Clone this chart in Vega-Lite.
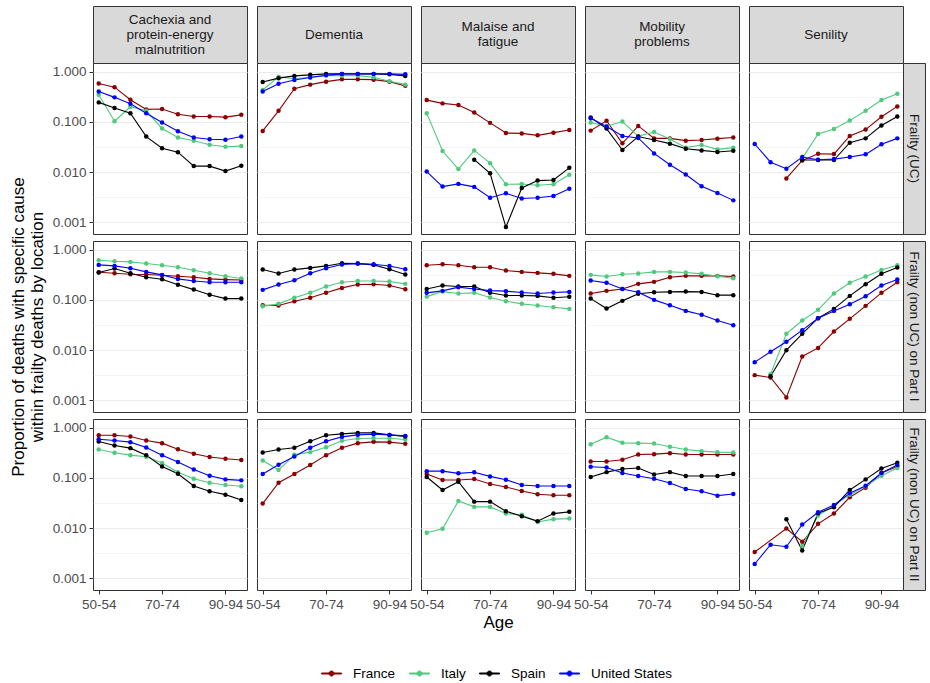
{
"$schema": "https://vega.github.io/schema/vega-lite/v6.json",
"background": "white",
"padding": {"left": 8, "top": 5, "right": 1, "bottom": 5},
"datasets": {
"pts": [
{"cause":"Cachexia","frailty":"UC","loc":"France","age":"50-54","p":0.58},
{"cause":"Cachexia","frailty":"UC","loc":"France","age":"55-59","p":0.49},
{"cause":"Cachexia","frailty":"UC","loc":"France","age":"60-64","p":0.275},
{"cause":"Cachexia","frailty":"UC","loc":"France","age":"65-69","p":0.177},
{"cause":"Cachexia","frailty":"UC","loc":"France","age":"70-74","p":0.18},
{"cause":"Cachexia","frailty":"UC","loc":"France","age":"75-79","p":0.142},
{"cause":"Cachexia","frailty":"UC","loc":"France","age":"80-84","p":0.128},
{"cause":"Cachexia","frailty":"UC","loc":"France","age":"85-89","p":0.128},
{"cause":"Cachexia","frailty":"UC","loc":"France","age":"90-94","p":0.124},
{"cause":"Cachexia","frailty":"UC","loc":"France","age":"95-99","p":0.138},
{"cause":"Cachexia","frailty":"UC","loc":"Italy","age":"50-54","p":0.347},
{"cause":"Cachexia","frailty":"UC","loc":"Italy","age":"55-59","p":0.103},
{"cause":"Cachexia","frailty":"UC","loc":"Italy","age":"60-64","p":0.2},
{"cause":"Cachexia","frailty":"UC","loc":"Italy","age":"65-69","p":0.166},
{"cause":"Cachexia","frailty":"UC","loc":"Italy","age":"70-74","p":0.074},
{"cause":"Cachexia","frailty":"UC","loc":"Italy","age":"75-79","p":0.049},
{"cause":"Cachexia","frailty":"UC","loc":"Italy","age":"80-84","p":0.042},
{"cause":"Cachexia","frailty":"UC","loc":"Italy","age":"85-89","p":0.035},
{"cause":"Cachexia","frailty":"UC","loc":"Italy","age":"90-94","p":0.032},
{"cause":"Cachexia","frailty":"UC","loc":"Italy","age":"95-99","p":0.033},
{"cause":"Cachexia","frailty":"UC","loc":"Spain","age":"50-54","p":0.244},
{"cause":"Cachexia","frailty":"UC","loc":"Spain","age":"55-59","p":0.188},
{"cause":"Cachexia","frailty":"UC","loc":"Spain","age":"60-64","p":0.149},
{"cause":"Cachexia","frailty":"UC","loc":"Spain","age":"65-69","p":0.051},
{"cause":"Cachexia","frailty":"UC","loc":"Spain","age":"70-74","p":0.03},
{"cause":"Cachexia","frailty":"UC","loc":"Spain","age":"75-79","p":0.025},
{"cause":"Cachexia","frailty":"UC","loc":"Spain","age":"80-84","p":0.0132},
{"cause":"Cachexia","frailty":"UC","loc":"Spain","age":"85-89","p":0.0132},
{"cause":"Cachexia","frailty":"UC","loc":"Spain","age":"90-94","p":0.0105},
{"cause":"Cachexia","frailty":"UC","loc":"Spain","age":"95-99","p":0.0134},
{"cause":"Cachexia","frailty":"UC","loc":"United States","age":"50-54","p":0.4},
{"cause":"Cachexia","frailty":"UC","loc":"United States","age":"55-59","p":0.307},
{"cause":"Cachexia","frailty":"UC","loc":"United States","age":"60-64","p":0.229},
{"cause":"Cachexia","frailty":"UC","loc":"United States","age":"65-69","p":0.149},
{"cause":"Cachexia","frailty":"UC","loc":"United States","age":"70-74","p":0.097},
{"cause":"Cachexia","frailty":"UC","loc":"United States","age":"75-79","p":0.065},
{"cause":"Cachexia","frailty":"UC","loc":"United States","age":"80-84","p":0.049},
{"cause":"Cachexia","frailty":"UC","loc":"United States","age":"85-89","p":0.045},
{"cause":"Cachexia","frailty":"UC","loc":"United States","age":"90-94","p":0.044},
{"cause":"Cachexia","frailty":"UC","loc":"United States","age":"95-99","p":0.051},
{"cause":"Dementia","frailty":"UC","loc":"France","age":"50-54","p":0.066},
{"cause":"Dementia","frailty":"UC","loc":"France","age":"55-59","p":0.166},
{"cause":"Dementia","frailty":"UC","loc":"France","age":"60-64","p":0.457},
{"cause":"Dementia","frailty":"UC","loc":"France","age":"65-69","p":0.55},
{"cause":"Dementia","frailty":"UC","loc":"France","age":"70-74","p":0.63},
{"cause":"Dementia","frailty":"UC","loc":"France","age":"75-79","p":0.7},
{"cause":"Dementia","frailty":"UC","loc":"France","age":"80-84","p":0.7},
{"cause":"Dementia","frailty":"UC","loc":"France","age":"85-89","p":0.69},
{"cause":"Dementia","frailty":"UC","loc":"France","age":"90-94","p":0.63},
{"cause":"Dementia","frailty":"UC","loc":"France","age":"95-99","p":0.52},
{"cause":"Dementia","frailty":"UC","loc":"Italy","age":"50-54","p":0.43},
{"cause":"Dementia","frailty":"UC","loc":"Italy","age":"55-59","p":0.79},
{"cause":"Dementia","frailty":"UC","loc":"Italy","age":"60-64","p":0.72},
{"cause":"Dementia","frailty":"UC","loc":"Italy","age":"65-69","p":0.77},
{"cause":"Dementia","frailty":"UC","loc":"Italy","age":"70-74","p":0.84},
{"cause":"Dementia","frailty":"UC","loc":"Italy","age":"75-79","p":0.83},
{"cause":"Dementia","frailty":"UC","loc":"Italy","age":"80-84","p":0.83},
{"cause":"Dementia","frailty":"UC","loc":"Italy","age":"85-89","p":0.77},
{"cause":"Dementia","frailty":"UC","loc":"Italy","age":"90-94","p":0.64},
{"cause":"Dementia","frailty":"UC","loc":"Italy","age":"95-99","p":0.55},
{"cause":"Dementia","frailty":"UC","loc":"Spain","age":"50-54","p":0.62},
{"cause":"Dementia","frailty":"UC","loc":"Spain","age":"55-59","p":0.74},
{"cause":"Dementia","frailty":"UC","loc":"Spain","age":"60-64","p":0.82},
{"cause":"Dementia","frailty":"UC","loc":"Spain","age":"65-69","p":0.86},
{"cause":"Dementia","frailty":"UC","loc":"Spain","age":"70-74","p":0.9},
{"cause":"Dementia","frailty":"UC","loc":"Spain","age":"75-79","p":0.9},
{"cause":"Dementia","frailty":"UC","loc":"Spain","age":"80-84","p":0.9},
{"cause":"Dementia","frailty":"UC","loc":"Spain","age":"85-89","p":0.9},
{"cause":"Dementia","frailty":"UC","loc":"Spain","age":"90-94","p":0.88},
{"cause":"Dementia","frailty":"UC","loc":"Spain","age":"95-99","p":0.82},
{"cause":"Dementia","frailty":"UC","loc":"United States","age":"50-54","p":0.4},
{"cause":"Dementia","frailty":"UC","loc":"United States","age":"55-59","p":0.575},
{"cause":"Dementia","frailty":"UC","loc":"United States","age":"60-64","p":0.68},
{"cause":"Dementia","frailty":"UC","loc":"United States","age":"65-69","p":0.76},
{"cause":"Dementia","frailty":"UC","loc":"United States","age":"70-74","p":0.84},
{"cause":"Dementia","frailty":"UC","loc":"United States","age":"75-79","p":0.9},
{"cause":"Dementia","frailty":"UC","loc":"United States","age":"80-84","p":0.9},
{"cause":"Dementia","frailty":"UC","loc":"United States","age":"85-89","p":0.9},
{"cause":"Dementia","frailty":"UC","loc":"United States","age":"90-94","p":0.9},
{"cause":"Dementia","frailty":"UC","loc":"United States","age":"95-99","p":0.88},
{"cause":"Malaise","frailty":"UC","loc":"France","age":"50-54","p":0.271},
{"cause":"Malaise","frailty":"UC","loc":"France","age":"55-59","p":0.233},
{"cause":"Malaise","frailty":"UC","loc":"France","age":"60-64","p":0.216},
{"cause":"Malaise","frailty":"UC","loc":"France","age":"65-69","p":0.154},
{"cause":"Malaise","frailty":"UC","loc":"France","age":"70-74","p":0.0955},
{"cause":"Malaise","frailty":"UC","loc":"France","age":"75-79","p":0.06},
{"cause":"Malaise","frailty":"UC","loc":"France","age":"80-84","p":0.059},
{"cause":"Malaise","frailty":"UC","loc":"France","age":"85-89","p":0.054},
{"cause":"Malaise","frailty":"UC","loc":"France","age":"90-94","p":0.061},
{"cause":"Malaise","frailty":"UC","loc":"France","age":"95-99","p":0.069},
{"cause":"Malaise","frailty":"UC","loc":"Italy","age":"50-54","p":0.149},
{"cause":"Malaise","frailty":"UC","loc":"Italy","age":"55-59","p":0.0263},
{"cause":"Malaise","frailty":"UC","loc":"Italy","age":"60-64","p":0.0115},
{"cause":"Malaise","frailty":"UC","loc":"Italy","age":"65-69","p":0.0271},
{"cause":"Malaise","frailty":"UC","loc":"Italy","age":"70-74","p":0.0151},
{"cause":"Malaise","frailty":"UC","loc":"Italy","age":"75-79","p":0.00575},
{"cause":"Malaise","frailty":"UC","loc":"Italy","age":"80-84","p":0.0058},
{"cause":"Malaise","frailty":"UC","loc":"Italy","age":"85-89","p":0.0055},
{"cause":"Malaise","frailty":"UC","loc":"Italy","age":"90-94","p":0.00575},
{"cause":"Malaise","frailty":"UC","loc":"Italy","age":"95-99","p":0.00885},
{"cause":"Malaise","frailty":"UC","loc":"Spain","age":"65-69","p":0.0177},
{"cause":"Malaise","frailty":"UC","loc":"Spain","age":"70-74","p":0.0095},
{"cause":"Malaise","frailty":"UC","loc":"Spain","age":"75-79","p":0.00081},
{"cause":"Malaise","frailty":"UC","loc":"Spain","age":"80-84","p":0.00486},
{"cause":"Malaise","frailty":"UC","loc":"Spain","age":"85-89","p":0.0068},
{"cause":"Malaise","frailty":"UC","loc":"Spain","age":"90-94","p":0.007},
{"cause":"Malaise","frailty":"UC","loc":"Spain","age":"95-99","p":0.0122},
{"cause":"Malaise","frailty":"UC","loc":"United States","age":"50-54","p":0.0103},
{"cause":"Malaise","frailty":"UC","loc":"United States","age":"55-59","p":0.00517},
{"cause":"Malaise","frailty":"UC","loc":"United States","age":"60-64","p":0.00585},
{"cause":"Malaise","frailty":"UC","loc":"United States","age":"65-69","p":0.0051},
{"cause":"Malaise","frailty":"UC","loc":"United States","age":"70-74","p":0.0031},
{"cause":"Malaise","frailty":"UC","loc":"United States","age":"75-79","p":0.0038},
{"cause":"Malaise","frailty":"UC","loc":"United States","age":"80-84","p":0.003},
{"cause":"Malaise","frailty":"UC","loc":"United States","age":"85-89","p":0.0031},
{"cause":"Malaise","frailty":"UC","loc":"United States","age":"90-94","p":0.00336},
{"cause":"Malaise","frailty":"UC","loc":"United States","age":"95-99","p":0.0047},
{"cause":"Mobility","frailty":"UC","loc":"France","age":"50-54","p":0.067},
{"cause":"Mobility","frailty":"UC","loc":"France","age":"55-59","p":0.105},
{"cause":"Mobility","frailty":"UC","loc":"France","age":"60-64","p":0.0375},
{"cause":"Mobility","frailty":"UC","loc":"France","age":"65-69","p":0.083},
{"cause":"Mobility","frailty":"UC","loc":"France","age":"70-74","p":0.047},
{"cause":"Mobility","frailty":"UC","loc":"France","age":"75-79","p":0.047},
{"cause":"Mobility","frailty":"UC","loc":"France","age":"80-84","p":0.0423},
{"cause":"Mobility","frailty":"UC","loc":"France","age":"85-89","p":0.0435},
{"cause":"Mobility","frailty":"UC","loc":"France","age":"90-94","p":0.0464},
{"cause":"Mobility","frailty":"UC","loc":"France","age":"95-99","p":0.049},
{"cause":"Mobility","frailty":"UC","loc":"Italy","age":"50-54","p":0.097},
{"cause":"Mobility","frailty":"UC","loc":"Italy","age":"55-59","p":0.082},
{"cause":"Mobility","frailty":"UC","loc":"Italy","age":"60-64","p":0.1016},
{"cause":"Mobility","frailty":"UC","loc":"Italy","age":"65-69","p":0.052},
{"cause":"Mobility","frailty":"UC","loc":"Italy","age":"70-74","p":0.063},
{"cause":"Mobility","frailty":"UC","loc":"Italy","age":"75-79","p":0.0457},
{"cause":"Mobility","frailty":"UC","loc":"Italy","age":"80-84","p":0.0307},
{"cause":"Mobility","frailty":"UC","loc":"Italy","age":"85-89","p":0.0347},
{"cause":"Mobility","frailty":"UC","loc":"Italy","age":"90-94","p":0.0284},
{"cause":"Mobility","frailty":"UC","loc":"Italy","age":"95-99","p":0.0307},
{"cause":"Mobility","frailty":"UC","loc":"Spain","age":"50-54","p":0.122},
{"cause":"Mobility","frailty":"UC","loc":"Spain","age":"55-59","p":0.0736},
{"cause":"Mobility","frailty":"UC","loc":"Spain","age":"60-64","p":0.0275},
{"cause":"Mobility","frailty":"UC","loc":"Spain","age":"65-69","p":0.051},
{"cause":"Mobility","frailty":"UC","loc":"Spain","age":"70-74","p":0.0437},
{"cause":"Mobility","frailty":"UC","loc":"Spain","age":"75-79","p":0.0369},
{"cause":"Mobility","frailty":"UC","loc":"Spain","age":"80-84","p":0.0293},
{"cause":"Mobility","frailty":"UC","loc":"Spain","age":"85-89","p":0.0271},
{"cause":"Mobility","frailty":"UC","loc":"Spain","age":"90-94","p":0.0251},
{"cause":"Mobility","frailty":"UC","loc":"Spain","age":"95-99","p":0.0267},
{"cause":"Mobility","frailty":"UC","loc":"United States","age":"50-54","p":0.118},
{"cause":"Mobility","frailty":"UC","loc":"United States","age":"55-59","p":0.0807},
{"cause":"Mobility","frailty":"UC","loc":"United States","age":"60-64","p":0.0525},
{"cause":"Mobility","frailty":"UC","loc":"United States","age":"65-69","p":0.0479},
{"cause":"Mobility","frailty":"UC","loc":"United States","age":"70-74","p":0.0236},
{"cause":"Mobility","frailty":"UC","loc":"United States","age":"75-79","p":0.014},
{"cause":"Mobility","frailty":"UC","loc":"United States","age":"80-84","p":0.009},
{"cause":"Mobility","frailty":"UC","loc":"United States","age":"85-89","p":0.00525},
{"cause":"Mobility","frailty":"UC","loc":"United States","age":"90-94","p":0.00386},
{"cause":"Mobility","frailty":"UC","loc":"United States","age":"95-99","p":0.00275},
{"cause":"Senility","frailty":"UC","loc":"France","age":"60-64","p":0.0075},
{"cause":"Senility","frailty":"UC","loc":"France","age":"65-69","p":0.0171},
{"cause":"Senility","frailty":"UC","loc":"France","age":"70-74","p":0.0233},
{"cause":"Senility","frailty":"UC","loc":"France","age":"75-79","p":0.0229},
{"cause":"Senility","frailty":"UC","loc":"France","age":"80-84","p":0.0525},
{"cause":"Senility","frailty":"UC","loc":"France","age":"85-89","p":0.0703},
{"cause":"Senility","frailty":"UC","loc":"France","age":"90-94","p":0.126},
{"cause":"Senility","frailty":"UC","loc":"France","age":"95-99","p":0.203},
{"cause":"Senility","frailty":"UC","loc":"Italy","age":"65-69","p":0.0188},
{"cause":"Senility","frailty":"UC","loc":"Italy","age":"70-74","p":0.0575},
{"cause":"Senility","frailty":"UC","loc":"Italy","age":"75-79","p":0.0724},
{"cause":"Senility","frailty":"UC","loc":"Italy","age":"80-84","p":0.106},
{"cause":"Senility","frailty":"UC","loc":"Italy","age":"85-89","p":0.166},
{"cause":"Senility","frailty":"UC","loc":"Italy","age":"90-94","p":0.271},
{"cause":"Senility","frailty":"UC","loc":"Italy","age":"95-99","p":0.363},
{"cause":"Senility","frailty":"UC","loc":"Spain","age":"65-69","p":0.0174},
{"cause":"Senility","frailty":"UC","loc":"Spain","age":"70-74","p":0.0174},
{"cause":"Senility","frailty":"UC","loc":"Spain","age":"75-79","p":0.0174},
{"cause":"Senility","frailty":"UC","loc":"Spain","age":"80-84","p":0.0386},
{"cause":"Senility","frailty":"UC","loc":"Spain","age":"85-89","p":0.047},
{"cause":"Senility","frailty":"UC","loc":"Spain","age":"90-94","p":0.0845},
{"cause":"Senility","frailty":"UC","loc":"Spain","age":"95-99","p":0.128},
{"cause":"Senility","frailty":"UC","loc":"United States","age":"50-54","p":0.0363},
{"cause":"Senility","frailty":"UC","loc":"United States","age":"55-59","p":0.0158},
{"cause":"Senility","frailty":"UC","loc":"United States","age":"60-64","p":0.0117},
{"cause":"Senility","frailty":"UC","loc":"United States","age":"65-69","p":0.02},
{"cause":"Senility","frailty":"UC","loc":"United States","age":"70-74","p":0.0177},
{"cause":"Senility","frailty":"UC","loc":"United States","age":"75-79","p":0.0182},
{"cause":"Senility","frailty":"UC","loc":"United States","age":"80-84","p":0.02},
{"cause":"Senility","frailty":"UC","loc":"United States","age":"85-89","p":0.0226},
{"cause":"Senility","frailty":"UC","loc":"United States","age":"90-94","p":0.0358},
{"cause":"Senility","frailty":"UC","loc":"United States","age":"95-99","p":0.047},
{"cause":"Cachexia","frailty":"P1","loc":"France","age":"50-54","p":0.355},
{"cause":"Cachexia","frailty":"P1","loc":"France","age":"55-59","p":0.339},
{"cause":"Cachexia","frailty":"P1","loc":"France","age":"60-64","p":0.323},
{"cause":"Cachexia","frailty":"P1","loc":"France","age":"65-69","p":0.319},
{"cause":"Cachexia","frailty":"P1","loc":"France","age":"70-74","p":0.309},
{"cause":"Cachexia","frailty":"P1","loc":"France","age":"75-79","p":0.295},
{"cause":"Cachexia","frailty":"P1","loc":"France","age":"80-84","p":0.282},
{"cause":"Cachexia","frailty":"P1","loc":"France","age":"85-89","p":0.261},
{"cause":"Cachexia","frailty":"P1","loc":"France","age":"90-94","p":0.253},
{"cause":"Cachexia","frailty":"P1","loc":"France","age":"95-99","p":0.249},
{"cause":"Cachexia","frailty":"P1","loc":"Italy","age":"50-54","p":0.614},
{"cause":"Cachexia","frailty":"P1","loc":"Italy","age":"55-59","p":0.586},
{"cause":"Cachexia","frailty":"P1","loc":"Italy","age":"60-64","p":0.569},
{"cause":"Cachexia","frailty":"P1","loc":"Italy","age":"65-69","p":0.527},
{"cause":"Cachexia","frailty":"P1","loc":"Italy","age":"70-74","p":0.489},
{"cause":"Cachexia","frailty":"P1","loc":"Italy","age":"75-79","p":0.446},
{"cause":"Cachexia","frailty":"P1","loc":"Italy","age":"80-84","p":0.388},
{"cause":"Cachexia","frailty":"P1","loc":"Italy","age":"85-89","p":0.339},
{"cause":"Cachexia","frailty":"P1","loc":"Italy","age":"90-94","p":0.295},
{"cause":"Cachexia","frailty":"P1","loc":"Italy","age":"95-99","p":0.265},
{"cause":"Cachexia","frailty":"P1","loc":"Spain","age":"50-54","p":0.349},
{"cause":"Cachexia","frailty":"P1","loc":"Spain","age":"55-59","p":0.42},
{"cause":"Cachexia","frailty":"P1","loc":"Spain","age":"60-64","p":0.339},
{"cause":"Cachexia","frailty":"P1","loc":"Spain","age":"65-69","p":0.282},
{"cause":"Cachexia","frailty":"P1","loc":"Spain","age":"70-74","p":0.257},
{"cause":"Cachexia","frailty":"P1","loc":"Spain","age":"75-79","p":0.199},
{"cause":"Cachexia","frailty":"P1","loc":"Spain","age":"80-84","p":0.16},
{"cause":"Cachexia","frailty":"P1","loc":"Spain","age":"85-89","p":0.126},
{"cause":"Cachexia","frailty":"P1","loc":"Spain","age":"90-94","p":0.106},
{"cause":"Cachexia","frailty":"P1","loc":"Spain","age":"95-99","p":0.106},
{"cause":"Cachexia","frailty":"P1","loc":"United States","age":"50-54","p":0.496},
{"cause":"Cachexia","frailty":"P1","loc":"United States","age":"55-59","p":0.473},
{"cause":"Cachexia","frailty":"P1","loc":"United States","age":"60-64","p":0.426},
{"cause":"Cachexia","frailty":"P1","loc":"United States","age":"65-69","p":0.36},
{"cause":"Cachexia","frailty":"P1","loc":"United States","age":"70-74","p":0.314},
{"cause":"Cachexia","frailty":"P1","loc":"United States","age":"75-79","p":0.261},
{"cause":"Cachexia","frailty":"P1","loc":"United States","age":"80-84","p":0.238},
{"cause":"Cachexia","frailty":"P1","loc":"United States","age":"85-89","p":0.224},
{"cause":"Cachexia","frailty":"P1","loc":"United States","age":"90-94","p":0.224},
{"cause":"Cachexia","frailty":"P1","loc":"United States","age":"95-99","p":0.224},
{"cause":"Dementia","frailty":"P1","loc":"France","age":"50-54","p":0.0783},
{"cause":"Dementia","frailty":"P1","loc":"France","age":"55-59","p":0.0771},
{"cause":"Dementia","frailty":"P1","loc":"France","age":"60-64","p":0.094},
{"cause":"Dementia","frailty":"P1","loc":"France","age":"65-69","p":0.11},
{"cause":"Dementia","frailty":"P1","loc":"France","age":"70-74","p":0.138},
{"cause":"Dementia","frailty":"P1","loc":"France","age":"75-79","p":0.173},
{"cause":"Dementia","frailty":"P1","loc":"France","age":"80-84","p":0.202},
{"cause":"Dementia","frailty":"P1","loc":"France","age":"85-89","p":0.205},
{"cause":"Dementia","frailty":"P1","loc":"France","age":"90-94","p":0.193},
{"cause":"Dementia","frailty":"P1","loc":"France","age":"95-99","p":0.163},
{"cause":"Dementia","frailty":"P1","loc":"Italy","age":"50-54","p":0.0748},
{"cause":"Dementia","frailty":"P1","loc":"Italy","age":"55-59","p":0.0833},
{"cause":"Dementia","frailty":"P1","loc":"Italy","age":"60-64","p":0.11},
{"cause":"Dementia","frailty":"P1","loc":"Italy","age":"65-69","p":0.138},
{"cause":"Dementia","frailty":"P1","loc":"Italy","age":"70-74","p":0.184},
{"cause":"Dementia","frailty":"P1","loc":"Italy","age":"75-79","p":0.224},
{"cause":"Dementia","frailty":"P1","loc":"Italy","age":"80-84","p":0.238},
{"cause":"Dementia","frailty":"P1","loc":"Italy","age":"85-89","p":0.238},
{"cause":"Dementia","frailty":"P1","loc":"Italy","age":"90-94","p":0.231},
{"cause":"Dementia","frailty":"P1","loc":"Italy","age":"95-99","p":0.208},
{"cause":"Dementia","frailty":"P1","loc":"Spain","age":"50-54","p":0.4},
{"cause":"Dementia","frailty":"P1","loc":"Spain","age":"55-59","p":0.334},
{"cause":"Dementia","frailty":"P1","loc":"Spain","age":"60-64","p":0.4},
{"cause":"Dementia","frailty":"P1","loc":"Spain","age":"65-69","p":0.432},
{"cause":"Dementia","frailty":"P1","loc":"Spain","age":"70-74","p":0.473},
{"cause":"Dementia","frailty":"P1","loc":"Spain","age":"75-79","p":0.535},
{"cause":"Dementia","frailty":"P1","loc":"Spain","age":"80-84","p":0.526},
{"cause":"Dementia","frailty":"P1","loc":"Spain","age":"85-89","p":0.496},
{"cause":"Dementia","frailty":"P1","loc":"Spain","age":"90-94","p":0.407},
{"cause":"Dementia","frailty":"P1","loc":"Spain","age":"95-99","p":0.319},
{"cause":"Dementia","frailty":"P1","loc":"United States","age":"50-54","p":0.158},
{"cause":"Dementia","frailty":"P1","loc":"United States","age":"55-59","p":0.202},
{"cause":"Dementia","frailty":"P1","loc":"United States","age":"60-64","p":0.246},
{"cause":"Dementia","frailty":"P1","loc":"United States","age":"65-69","p":0.339},
{"cause":"Dementia","frailty":"P1","loc":"United States","age":"70-74","p":0.426},
{"cause":"Dementia","frailty":"P1","loc":"United States","age":"75-79","p":0.504},
{"cause":"Dementia","frailty":"P1","loc":"United States","age":"80-84","p":0.526},
{"cause":"Dementia","frailty":"P1","loc":"United States","age":"85-89","p":0.511},
{"cause":"Dementia","frailty":"P1","loc":"United States","age":"90-94","p":0.473},
{"cause":"Dementia","frailty":"P1","loc":"United States","age":"95-99","p":0.407},
{"cause":"Malaise","frailty":"P1","loc":"France","age":"50-54","p":0.489},
{"cause":"Malaise","frailty":"P1","loc":"France","age":"55-59","p":0.511},
{"cause":"Malaise","frailty":"P1","loc":"France","age":"60-64","p":0.489},
{"cause":"Malaise","frailty":"P1","loc":"France","age":"65-69","p":0.446},
{"cause":"Malaise","frailty":"P1","loc":"France","age":"70-74","p":0.446},
{"cause":"Malaise","frailty":"P1","loc":"France","age":"75-79","p":0.383},
{"cause":"Malaise","frailty":"P1","loc":"France","age":"80-84","p":0.36},
{"cause":"Malaise","frailty":"P1","loc":"France","age":"85-89","p":0.344},
{"cause":"Malaise","frailty":"P1","loc":"France","age":"90-94","p":0.329},
{"cause":"Malaise","frailty":"P1","loc":"France","age":"95-99","p":0.3},
{"cause":"Malaise","frailty":"P1","loc":"Italy","age":"50-54","p":0.116},
{"cause":"Malaise","frailty":"P1","loc":"Italy","age":"55-59","p":0.146},
{"cause":"Malaise","frailty":"P1","loc":"Italy","age":"60-64","p":0.134},
{"cause":"Malaise","frailty":"P1","loc":"Italy","age":"65-69","p":0.138},
{"cause":"Malaise","frailty":"P1","loc":"Italy","age":"70-74","p":0.111},
{"cause":"Malaise","frailty":"P1","loc":"Italy","age":"75-79","p":0.094},
{"cause":"Malaise","frailty":"P1","loc":"Italy","age":"80-84","p":0.0833},
{"cause":"Malaise","frailty":"P1","loc":"Italy","age":"85-89","p":0.0771},
{"cause":"Malaise","frailty":"P1","loc":"Italy","age":"90-94","p":0.0715},
{"cause":"Malaise","frailty":"P1","loc":"Italy","age":"95-99","p":0.0662},
{"cause":"Malaise","frailty":"P1","loc":"Spain","age":"50-54","p":0.165},
{"cause":"Malaise","frailty":"P1","loc":"Spain","age":"55-59","p":0.193},
{"cause":"Malaise","frailty":"P1","loc":"Spain","age":"60-64","p":0.184},
{"cause":"Malaise","frailty":"P1","loc":"Spain","age":"65-69","p":0.184},
{"cause":"Malaise","frailty":"P1","loc":"Spain","age":"70-74","p":0.138},
{"cause":"Malaise","frailty":"P1","loc":"Spain","age":"75-79","p":0.122},
{"cause":"Malaise","frailty":"P1","loc":"Spain","age":"80-84","p":0.122},
{"cause":"Malaise","frailty":"P1","loc":"Spain","age":"85-89","p":0.12},
{"cause":"Malaise","frailty":"P1","loc":"Spain","age":"90-94","p":0.11},
{"cause":"Malaise","frailty":"P1","loc":"Spain","age":"95-99","p":0.115},
{"cause":"Malaise","frailty":"P1","loc":"United States","age":"50-54","p":0.138},
{"cause":"Malaise","frailty":"P1","loc":"United States","age":"55-59","p":0.151},
{"cause":"Malaise","frailty":"P1","loc":"United States","age":"60-64","p":0.179},
{"cause":"Malaise","frailty":"P1","loc":"United States","age":"65-69","p":0.165},
{"cause":"Malaise","frailty":"P1","loc":"United States","age":"70-74","p":0.153},
{"cause":"Malaise","frailty":"P1","loc":"United States","age":"75-79","p":0.149},
{"cause":"Malaise","frailty":"P1","loc":"United States","age":"80-84","p":0.14},
{"cause":"Malaise","frailty":"P1","loc":"United States","age":"85-89","p":0.134},
{"cause":"Malaise","frailty":"P1","loc":"United States","age":"90-94","p":0.14},
{"cause":"Malaise","frailty":"P1","loc":"United States","age":"95-99","p":0.144},
{"cause":"Mobility","frailty":"P1","loc":"France","age":"50-54","p":0.134},
{"cause":"Mobility","frailty":"P1","loc":"France","age":"55-59","p":0.151},
{"cause":"Mobility","frailty":"P1","loc":"France","age":"60-64","p":0.165},
{"cause":"Mobility","frailty":"P1","loc":"France","age":"65-69","p":0.208},
{"cause":"Mobility","frailty":"P1","loc":"France","age":"70-74","p":0.228},
{"cause":"Mobility","frailty":"P1","loc":"France","age":"75-79","p":0.282},
{"cause":"Mobility","frailty":"P1","loc":"France","age":"80-84","p":0.3},
{"cause":"Mobility","frailty":"P1","loc":"France","age":"85-89","p":0.3},
{"cause":"Mobility","frailty":"P1","loc":"France","age":"90-94","p":0.3},
{"cause":"Mobility","frailty":"P1","loc":"France","age":"95-99","p":0.291},
{"cause":"Mobility","frailty":"P1","loc":"Italy","age":"50-54","p":0.314},
{"cause":"Mobility","frailty":"P1","loc":"Italy","age":"55-59","p":0.291},
{"cause":"Mobility","frailty":"P1","loc":"Italy","age":"60-64","p":0.323},
{"cause":"Mobility","frailty":"P1","loc":"Italy","age":"65-69","p":0.334},
{"cause":"Mobility","frailty":"P1","loc":"Italy","age":"70-74","p":0.36},
{"cause":"Mobility","frailty":"P1","loc":"Italy","age":"75-79","p":0.36},
{"cause":"Mobility","frailty":"P1","loc":"Italy","age":"80-84","p":0.349},
{"cause":"Mobility","frailty":"P1","loc":"Italy","age":"85-89","p":0.329},
{"cause":"Mobility","frailty":"P1","loc":"Italy","age":"90-94","p":0.295},
{"cause":"Mobility","frailty":"P1","loc":"Italy","age":"95-99","p":0.269},
{"cause":"Mobility","frailty":"P1","loc":"Spain","age":"50-54","p":0.106},
{"cause":"Mobility","frailty":"P1","loc":"Spain","age":"55-59","p":0.0673},
{"cause":"Mobility","frailty":"P1","loc":"Spain","age":"60-64","p":0.0955},
{"cause":"Mobility","frailty":"P1","loc":"Spain","age":"65-69","p":0.132},
{"cause":"Mobility","frailty":"P1","loc":"Spain","age":"70-74","p":0.142},
{"cause":"Mobility","frailty":"P1","loc":"Spain","age":"75-79","p":0.144},
{"cause":"Mobility","frailty":"P1","loc":"Spain","age":"80-84","p":0.146},
{"cause":"Mobility","frailty":"P1","loc":"Spain","age":"85-89","p":0.144},
{"cause":"Mobility","frailty":"P1","loc":"Spain","age":"90-94","p":0.124},
{"cause":"Mobility","frailty":"P1","loc":"Spain","age":"95-99","p":0.124},
{"cause":"Mobility","frailty":"P1","loc":"United States","age":"50-54","p":0.242},
{"cause":"Mobility","frailty":"P1","loc":"United States","age":"55-59","p":0.218},
{"cause":"Mobility","frailty":"P1","loc":"United States","age":"60-64","p":0.165},
{"cause":"Mobility","frailty":"P1","loc":"United States","age":"65-69","p":0.142},
{"cause":"Mobility","frailty":"P1","loc":"United States","age":"70-74","p":0.1},
{"cause":"Mobility","frailty":"P1","loc":"United States","age":"75-79","p":0.0783},
{"cause":"Mobility","frailty":"P1","loc":"United States","age":"80-84","p":0.0604},
{"cause":"Mobility","frailty":"P1","loc":"United States","age":"85-89","p":0.0504},
{"cause":"Mobility","frailty":"P1","loc":"United States","age":"90-94","p":0.0388},
{"cause":"Mobility","frailty":"P1","loc":"United States","age":"95-99","p":0.0314},
{"cause":"Senility","frailty":"P1","loc":"France","age":"50-54","p":0.00319},
{"cause":"Senility","frailty":"P1","loc":"France","age":"55-59","p":0.00286},
{"cause":"Senility","frailty":"P1","loc":"France","age":"60-64","p":0.00115},
{"cause":"Senility","frailty":"P1","loc":"France","age":"65-69","p":0.00749},
{"cause":"Senility","frailty":"P1","loc":"France","age":"70-74","p":0.0111},
{"cause":"Senility","frailty":"P1","loc":"France","age":"75-79","p":0.0235},
{"cause":"Senility","frailty":"P1","loc":"France","age":"80-84","p":0.042},
{"cause":"Senility","frailty":"P1","loc":"France","age":"85-89","p":0.076},
{"cause":"Senility","frailty":"P1","loc":"France","age":"90-94","p":0.138},
{"cause":"Senility","frailty":"P1","loc":"France","age":"95-99","p":0.224},
{"cause":"Senility","frailty":"P1","loc":"Italy","age":"55-59","p":0.00334},
{"cause":"Senility","frailty":"P1","loc":"Italy","age":"60-64","p":0.0211},
{"cause":"Senility","frailty":"P1","loc":"Italy","age":"65-69","p":0.0388},
{"cause":"Senility","frailty":"P1","loc":"Italy","age":"70-74","p":0.0633},
{"cause":"Senility","frailty":"P1","loc":"Italy","age":"75-79","p":0.134},
{"cause":"Senility","frailty":"P1","loc":"Italy","age":"80-84","p":0.218},
{"cause":"Senility","frailty":"P1","loc":"Italy","age":"85-89","p":0.291},
{"cause":"Senility","frailty":"P1","loc":"Italy","age":"90-94","p":0.394},
{"cause":"Senility","frailty":"P1","loc":"Italy","age":"95-99","p":0.489},
{"cause":"Senility","frailty":"P1","loc":"Spain","age":"55-59","p":0.00304},
{"cause":"Senility","frailty":"P1","loc":"Spain","age":"60-64","p":0.01},
{"cause":"Senility","frailty":"P1","loc":"Spain","age":"65-69","p":0.0211},
{"cause":"Senility","frailty":"P1","loc":"Spain","age":"70-74","p":0.0432},
{"cause":"Senility","frailty":"P1","loc":"Spain","age":"75-79","p":0.0662},
{"cause":"Senility","frailty":"P1","loc":"Spain","age":"80-84","p":0.12},
{"cause":"Senility","frailty":"P1","loc":"Spain","age":"85-89","p":0.205},
{"cause":"Senility","frailty":"P1","loc":"Spain","age":"90-94","p":0.329},
{"cause":"Senility","frailty":"P1","loc":"Spain","age":"95-99","p":0.439},
{"cause":"Senility","frailty":"P1","loc":"United States","age":"50-54","p":0.00578},
{"cause":"Senility","frailty":"P1","loc":"United States","age":"55-59","p":0.00927},
{"cause":"Senility","frailty":"P1","loc":"United States","age":"60-64","p":0.0147},
{"cause":"Senility","frailty":"P1","loc":"United States","age":"65-69","p":0.025},
{"cause":"Senility","frailty":"P1","loc":"United States","age":"70-74","p":0.0432},
{"cause":"Senility","frailty":"P1","loc":"United States","age":"75-79","p":0.0604},
{"cause":"Senility","frailty":"P1","loc":"United States","age":"80-84","p":0.082},
{"cause":"Senility","frailty":"P1","loc":"United States","age":"85-89","p":0.118},
{"cause":"Senility","frailty":"P1","loc":"United States","age":"90-94","p":0.193},
{"cause":"Senility","frailty":"P1","loc":"United States","age":"95-99","p":0.253},
{"cause":"Cachexia","frailty":"P2","loc":"France","age":"50-54","p":0.705},
{"cause":"Cachexia","frailty":"P2","loc":"France","age":"55-59","p":0.705},
{"cause":"Cachexia","frailty":"P2","loc":"France","age":"60-64","p":0.664},
{"cause":"Cachexia","frailty":"P2","loc":"France","age":"65-69","p":0.553},
{"cause":"Cachexia","frailty":"P2","loc":"France","age":"70-74","p":0.49},
{"cause":"Cachexia","frailty":"P2","loc":"France","age":"75-79","p":0.372},
{"cause":"Cachexia","frailty":"P2","loc":"France","age":"80-84","p":0.301},
{"cause":"Cachexia","frailty":"P2","loc":"France","age":"85-89","p":0.259},
{"cause":"Cachexia","frailty":"P2","loc":"France","age":"90-94","p":0.24},
{"cause":"Cachexia","frailty":"P2","loc":"France","age":"95-99","p":0.226},
{"cause":"Cachexia","frailty":"P2","loc":"Italy","age":"50-54","p":0.367},
{"cause":"Cachexia","frailty":"P2","loc":"Italy","age":"55-59","p":0.315},
{"cause":"Cachexia","frailty":"P2","loc":"Italy","age":"60-64","p":0.283},
{"cause":"Cachexia","frailty":"P2","loc":"Italy","age":"65-69","p":0.263},
{"cause":"Cachexia","frailty":"P2","loc":"Italy","age":"70-74","p":0.197},
{"cause":"Cachexia","frailty":"P2","loc":"Italy","age":"75-79","p":0.13},
{"cause":"Cachexia","frailty":"P2","loc":"Italy","age":"80-84","p":0.0964},
{"cause":"Cachexia","frailty":"P2","loc":"Italy","age":"85-89","p":0.0802},
{"cause":"Cachexia","frailty":"P2","loc":"Italy","age":"90-94","p":0.0721},
{"cause":"Cachexia","frailty":"P2","loc":"Italy","age":"95-99","p":0.0679},
{"cause":"Cachexia","frailty":"P2","loc":"Spain","age":"50-54","p":0.528},
{"cause":"Cachexia","frailty":"P2","loc":"Spain","age":"55-59","p":0.44},
{"cause":"Cachexia","frailty":"P2","loc":"Spain","age":"60-64","p":0.39},
{"cause":"Cachexia","frailty":"P2","loc":"Spain","age":"65-69","p":0.283},
{"cause":"Cachexia","frailty":"P2","loc":"Spain","age":"70-74","p":0.169},
{"cause":"Cachexia","frailty":"P2","loc":"Spain","age":"75-79","p":0.121},
{"cause":"Cachexia","frailty":"P2","loc":"Spain","age":"80-84","p":0.0689},
{"cause":"Cachexia","frailty":"P2","loc":"Spain","age":"85-89","p":0.054},
{"cause":"Cachexia","frailty":"P2","loc":"Spain","age":"90-94","p":0.0464},
{"cause":"Cachexia","frailty":"P2","loc":"Spain","age":"95-99","p":0.0364},
{"cause":"Cachexia","frailty":"P2","loc":"United States","age":"50-54","p":0.587},
{"cause":"Cachexia","frailty":"P2","loc":"United States","age":"55-59","p":0.553},
{"cause":"Cachexia","frailty":"P2","loc":"United States","age":"60-64","p":0.513},
{"cause":"Cachexia","frailty":"P2","loc":"United States","age":"65-69","p":0.402},
{"cause":"Cachexia","frailty":"P2","loc":"United States","age":"70-74","p":0.283},
{"cause":"Cachexia","frailty":"P2","loc":"United States","age":"75-79","p":0.206},
{"cause":"Cachexia","frailty":"P2","loc":"United States","age":"80-84","p":0.147},
{"cause":"Cachexia","frailty":"P2","loc":"United States","age":"85-89","p":0.11},
{"cause":"Cachexia","frailty":"P2","loc":"United States","age":"90-94","p":0.0933},
{"cause":"Cachexia","frailty":"P2","loc":"United States","age":"95-99","p":0.0892},
{"cause":"Dementia","frailty":"P2","loc":"France","age":"50-54","p":0.0308},
{"cause":"Dementia","frailty":"P2","loc":"France","age":"55-59","p":0.0802},
{"cause":"Dementia","frailty":"P2","loc":"France","age":"60-64","p":0.119},
{"cause":"Dementia","frailty":"P2","loc":"France","age":"65-69","p":0.18},
{"cause":"Dementia","frailty":"P2","loc":"France","age":"70-74","p":0.283},
{"cause":"Dementia","frailty":"P2","loc":"France","age":"75-79","p":0.396},
{"cause":"Dementia","frailty":"P2","loc":"France","age":"80-84","p":0.49},
{"cause":"Dementia","frailty":"P2","loc":"France","age":"85-89","p":0.52},
{"cause":"Dementia","frailty":"P2","loc":"France","age":"90-94","p":0.513},
{"cause":"Dementia","frailty":"P2","loc":"France","age":"95-99","p":0.475},
{"cause":"Dementia","frailty":"P2","loc":"Italy","age":"50-54","p":0.222},
{"cause":"Dementia","frailty":"P2","loc":"Italy","age":"55-59","p":0.143},
{"cause":"Dementia","frailty":"P2","loc":"Italy","age":"60-64","p":0.288},
{"cause":"Dementia","frailty":"P2","loc":"Italy","age":"65-69","p":0.325},
{"cause":"Dementia","frailty":"P2","loc":"Italy","age":"70-74","p":0.408},
{"cause":"Dementia","frailty":"P2","loc":"Italy","age":"75-79","p":0.545},
{"cause":"Dementia","frailty":"P2","loc":"Italy","age":"80-84","p":0.605},
{"cause":"Dementia","frailty":"P2","loc":"Italy","age":"85-89","p":0.615},
{"cause":"Dementia","frailty":"P2","loc":"Italy","age":"90-94","p":0.615},
{"cause":"Dementia","frailty":"P2","loc":"Italy","age":"95-99","p":0.578},
{"cause":"Dementia","frailty":"P2","loc":"Spain","age":"50-54","p":0.32},
{"cause":"Dementia","frailty":"P2","loc":"Spain","age":"55-59","p":0.367},
{"cause":"Dementia","frailty":"P2","loc":"Spain","age":"60-64","p":0.396},
{"cause":"Dementia","frailty":"P2","loc":"Spain","age":"65-69","p":0.536},
{"cause":"Dementia","frailty":"P2","loc":"Spain","age":"70-74","p":0.705},
{"cause":"Dementia","frailty":"P2","loc":"Spain","age":"75-79","p":0.749},
{"cause":"Dementia","frailty":"P2","loc":"Spain","age":"80-84","p":0.784},
{"cause":"Dementia","frailty":"P2","loc":"Spain","age":"85-89","p":0.784},
{"cause":"Dementia","frailty":"P2","loc":"Spain","age":"90-94","p":0.716},
{"cause":"Dementia","frailty":"P2","loc":"Spain","age":"95-99","p":0.664},
{"cause":"Dementia","frailty":"P2","loc":"United States","age":"50-54","p":0.119},
{"cause":"Dementia","frailty":"P2","loc":"United States","age":"55-59","p":0.182},
{"cause":"Dementia","frailty":"P2","loc":"United States","age":"60-64","p":0.267},
{"cause":"Dementia","frailty":"P2","loc":"United States","age":"65-69","p":0.396},
{"cause":"Dementia","frailty":"P2","loc":"United States","age":"70-74","p":0.536},
{"cause":"Dementia","frailty":"P2","loc":"United States","age":"75-79","p":0.653},
{"cause":"Dementia","frailty":"P2","loc":"United States","age":"80-84","p":0.716},
{"cause":"Dementia","frailty":"P2","loc":"United States","age":"85-89","p":0.738},
{"cause":"Dementia","frailty":"P2","loc":"United States","age":"90-94","p":0.716},
{"cause":"Dementia","frailty":"P2","loc":"United States","age":"95-99","p":0.684},
{"cause":"Malaise","frailty":"P2","loc":"France","age":"50-54","p":0.119},
{"cause":"Malaise","frailty":"P2","loc":"France","age":"55-59","p":0.0906},
{"cause":"Malaise","frailty":"P2","loc":"France","age":"60-64","p":0.0906},
{"cause":"Malaise","frailty":"P2","loc":"France","age":"65-69","p":0.0948},
{"cause":"Malaise","frailty":"P2","loc":"France","age":"70-74","p":0.0755},
{"cause":"Malaise","frailty":"P2","loc":"France","age":"75-79","p":0.0658},
{"cause":"Malaise","frailty":"P2","loc":"France","age":"80-84","p":0.0548},
{"cause":"Malaise","frailty":"P2","loc":"France","age":"85-89","p":0.0471},
{"cause":"Malaise","frailty":"P2","loc":"France","age":"90-94","p":0.045},
{"cause":"Malaise","frailty":"P2","loc":"France","age":"95-99","p":0.045},
{"cause":"Malaise","frailty":"P2","loc":"Italy","age":"50-54","p":0.00809},
{"cause":"Malaise","frailty":"P2","loc":"Italy","age":"55-59","p":0.0097},
{"cause":"Malaise","frailty":"P2","loc":"Italy","age":"60-64","p":0.0348},
{"cause":"Malaise","frailty":"P2","loc":"Italy","age":"65-69","p":0.0265},
{"cause":"Malaise","frailty":"P2","loc":"Italy","age":"70-74","p":0.0265},
{"cause":"Malaise","frailty":"P2","loc":"Italy","age":"75-79","p":0.0195},
{"cause":"Malaise","frailty":"P2","loc":"Italy","age":"80-84","p":0.0184},
{"cause":"Malaise","frailty":"P2","loc":"Italy","age":"85-89","p":0.0133},
{"cause":"Malaise","frailty":"P2","loc":"Italy","age":"90-94","p":0.0151},
{"cause":"Malaise","frailty":"P2","loc":"Italy","age":"95-99","p":0.0155},
{"cause":"Malaise","frailty":"P2","loc":"Spain","age":"50-54","p":0.104},
{"cause":"Malaise","frailty":"P2","loc":"Spain","age":"55-59","p":0.0574},
{"cause":"Malaise","frailty":"P2","loc":"Spain","age":"60-64","p":0.084},
{"cause":"Malaise","frailty":"P2","loc":"Spain","age":"65-69","p":0.0337},
{"cause":"Malaise","frailty":"P2","loc":"Spain","age":"70-74","p":0.0337},
{"cause":"Malaise","frailty":"P2","loc":"Spain","age":"75-79","p":0.0217},
{"cause":"Malaise","frailty":"P2","loc":"Spain","age":"80-84","p":0.0173},
{"cause":"Malaise","frailty":"P2","loc":"Spain","age":"85-89","p":0.0138},
{"cause":"Malaise","frailty":"P2","loc":"Spain","age":"90-94","p":0.0195},
{"cause":"Malaise","frailty":"P2","loc":"Spain","age":"95-99","p":0.0211},
{"cause":"Malaise","frailty":"P2","loc":"United States","age":"50-54","p":0.136},
{"cause":"Malaise","frailty":"P2","loc":"United States","age":"55-59","p":0.136},
{"cause":"Malaise","frailty":"P2","loc":"United States","age":"60-64","p":0.123},
{"cause":"Malaise","frailty":"P2","loc":"United States","age":"65-69","p":0.129},
{"cause":"Malaise","frailty":"P2","loc":"United States","age":"70-74","p":0.107},
{"cause":"Malaise","frailty":"P2","loc":"United States","age":"75-79","p":0.092},
{"cause":"Malaise","frailty":"P2","loc":"United States","age":"80-84","p":0.0721},
{"cause":"Malaise","frailty":"P2","loc":"United States","age":"85-89","p":0.0689},
{"cause":"Malaise","frailty":"P2","loc":"United States","age":"90-94","p":0.0689},
{"cause":"Malaise","frailty":"P2","loc":"United States","age":"95-99","p":0.0689},
{"cause":"Mobility","frailty":"P2","loc":"France","age":"50-54","p":0.212},
{"cause":"Mobility","frailty":"P2","loc":"France","age":"55-59","p":0.212},
{"cause":"Mobility","frailty":"P2","loc":"France","age":"60-64","p":0.229},
{"cause":"Mobility","frailty":"P2","loc":"France","age":"65-69","p":0.292},
{"cause":"Mobility","frailty":"P2","loc":"France","age":"70-74","p":0.296},
{"cause":"Mobility","frailty":"P2","loc":"France","age":"75-79","p":0.31},
{"cause":"Mobility","frailty":"P2","loc":"France","age":"80-84","p":0.292},
{"cause":"Mobility","frailty":"P2","loc":"France","age":"85-89","p":0.292},
{"cause":"Mobility","frailty":"P2","loc":"France","age":"90-94","p":0.292},
{"cause":"Mobility","frailty":"P2","loc":"France","age":"95-99","p":0.292},
{"cause":"Mobility","frailty":"P2","loc":"Italy","age":"50-54","p":0.468},
{"cause":"Mobility","frailty":"P2","loc":"Italy","age":"55-59","p":0.644},
{"cause":"Mobility","frailty":"P2","loc":"Italy","age":"60-64","p":0.497},
{"cause":"Mobility","frailty":"P2","loc":"Italy","age":"65-69","p":0.49},
{"cause":"Mobility","frailty":"P2","loc":"Italy","age":"70-74","p":0.482},
{"cause":"Mobility","frailty":"P2","loc":"Italy","age":"75-79","p":0.414},
{"cause":"Mobility","frailty":"P2","loc":"Italy","age":"80-84","p":0.367},
{"cause":"Mobility","frailty":"P2","loc":"Italy","age":"85-89","p":0.34},
{"cause":"Mobility","frailty":"P2","loc":"Italy","age":"90-94","p":0.325},
{"cause":"Mobility","frailty":"P2","loc":"Italy","age":"95-99","p":0.32},
{"cause":"Mobility","frailty":"P2","loc":"Spain","age":"50-54","p":0.104},
{"cause":"Mobility","frailty":"P2","loc":"Spain","age":"55-59","p":0.13},
{"cause":"Mobility","frailty":"P2","loc":"Spain","age":"60-64","p":0.15},
{"cause":"Mobility","frailty":"P2","loc":"Spain","age":"65-69","p":0.157},
{"cause":"Mobility","frailty":"P2","loc":"Spain","age":"70-74","p":0.117},
{"cause":"Mobility","frailty":"P2","loc":"Spain","age":"75-79","p":0.13},
{"cause":"Mobility","frailty":"P2","loc":"Spain","age":"80-84","p":0.109},
{"cause":"Mobility","frailty":"P2","loc":"Spain","age":"85-89","p":0.109},
{"cause":"Mobility","frailty":"P2","loc":"Spain","age":"90-94","p":0.109},
{"cause":"Mobility","frailty":"P2","loc":"Spain","age":"95-99","p":0.119},
{"cause":"Mobility","frailty":"P2","loc":"United States","age":"50-54","p":0.166},
{"cause":"Mobility","frailty":"P2","loc":"United States","age":"55-59","p":0.161},
{"cause":"Mobility","frailty":"P2","loc":"United States","age":"60-64","p":0.125},
{"cause":"Mobility","frailty":"P2","loc":"United States","age":"65-69","p":0.109},
{"cause":"Mobility","frailty":"P2","loc":"United States","age":"70-74","p":0.0964},
{"cause":"Mobility","frailty":"P2","loc":"United States","age":"75-79","p":0.079},
{"cause":"Mobility","frailty":"P2","loc":"United States","age":"80-84","p":0.0601},
{"cause":"Mobility","frailty":"P2","loc":"United States","age":"85-89","p":0.054},
{"cause":"Mobility","frailty":"P2","loc":"United States","age":"90-94","p":0.0443},
{"cause":"Mobility","frailty":"P2","loc":"United States","age":"95-99","p":0.0479},
{"cause":"Senility","frailty":"P2","loc":"France","age":"50-54","p":0.00335},
{"cause":"Senility","frailty":"P2","loc":"France","age":"60-64","p":0.00985},
{"cause":"Senility","frailty":"P2","loc":"France","age":"65-69","p":0.00536},
{"cause":"Senility","frailty":"P2","loc":"France","age":"70-74","p":0.0122},
{"cause":"Senility","frailty":"P2","loc":"France","age":"75-79","p":0.0195},
{"cause":"Senility","frailty":"P2","loc":"France","age":"80-84","p":0.0411},
{"cause":"Senility","frailty":"P2","loc":"France","age":"85-89","p":0.0639},
{"cause":"Senility","frailty":"P2","loc":"France","age":"90-94","p":0.125},
{"cause":"Senility","frailty":"P2","loc":"France","age":"95-99","p":0.169},
{"cause":"Senility","frailty":"P2","loc":"Italy","age":"65-69","p":0.0044},
{"cause":"Senility","frailty":"P2","loc":"Italy","age":"70-74","p":0.0178},
{"cause":"Senility","frailty":"P2","loc":"Italy","age":"75-79","p":0.0281},
{"cause":"Senility","frailty":"P2","loc":"Italy","age":"80-84","p":0.0464},
{"cause":"Senility","frailty":"P2","loc":"Italy","age":"85-89","p":0.0679},
{"cause":"Senility","frailty":"P2","loc":"Italy","age":"90-94","p":0.11},
{"cause":"Senility","frailty":"P2","loc":"Italy","age":"95-99","p":0.157},
{"cause":"Senility","frailty":"P2","loc":"Spain","age":"60-64","p":0.0151},
{"cause":"Senility","frailty":"P2","loc":"Spain","age":"65-69","p":0.00361},
{"cause":"Senility","frailty":"P2","loc":"Spain","age":"70-74","p":0.0198},
{"cause":"Senility","frailty":"P2","loc":"Spain","age":"75-79","p":0.0261},
{"cause":"Senility","frailty":"P2","loc":"Spain","age":"80-84","p":0.0574},
{"cause":"Senility","frailty":"P2","loc":"Spain","age":"85-89","p":0.0933},
{"cause":"Senility","frailty":"P2","loc":"Spain","age":"90-94","p":0.154},
{"cause":"Senility","frailty":"P2","loc":"Spain","age":"95-99","p":0.2},
{"cause":"Senility","frailty":"P2","loc":"United States","age":"50-54","p":0.00194},
{"cause":"Senility","frailty":"P2","loc":"United States","age":"55-59","p":0.00468},
{"cause":"Senility","frailty":"P2","loc":"United States","age":"60-64","p":0.00427},
{"cause":"Senility","frailty":"P2","loc":"United States","age":"65-69","p":0.0118},
{"cause":"Senility","frailty":"P2","loc":"United States","age":"70-74","p":0.0207},
{"cause":"Senility","frailty":"P2","loc":"United States","age":"75-79","p":0.029},
{"cause":"Senility","frailty":"P2","loc":"United States","age":"80-84","p":0.0493},
{"cause":"Senility","frailty":"P2","loc":"United States","age":"85-89","p":0.07},
{"cause":"Senility","frailty":"P2","loc":"United States","age":"90-94","p":0.125},
{"cause":"Senility","frailty":"P2","loc":"United States","age":"95-99","p":0.18}
],
"strips": [
{"label": "Cachexia and\nprotein-energy\nmalnutrition"},
{"label": "Dementia"},
{"label": "Malaise and\nfatigue"},
{"label": "Mobility\nproblems"},
{"label": "Senility"},
{"label": "Frailty (UC)"},
{"label": "Frailty (non UC) on Part I"},
{"label": "Frailty (non UC) on Part II"}
],
"none": []
},
"config": {
"font": "Liberation Sans",
"view": {"stroke": "#333333", "strokeWidth": 1},
"axis": {"domain": false, "tickColor": "#333333", "tickSize": 4, "labelColor": "#4d4d4d", "labelFontSize": 13.5, "labelPadding": 3, "gridColor": "#ebebeb", "titleFontSize": 17, "titleFontWeight": "normal", "titleColor": "#000000", "titlePadding": 6},
"range": {"category": ["#8b0000", "#4fc97d", "#000000", "#0000ff"]},
"legend": {"orient": "none", "legendX": 228, "legendY": 657, "padding": 0, "direction": "horizontal", "title": null, "symbolType": "M-1,-0.05H1V0.05H-1Z M0.25,0A0.25,0.25,0,1,1,-0.25,0A0.25,0.25,0,1,1,0.25,0Z", "symbolSize": 400, "symbolStrokeWidth": 1, "labelFontSize": 13.5, "labelColor": "#000000", "labelOffset": 11, "columnPadding": 11},
"text": {"font": "Liberation Sans", "fontSize": 13.5, "color": "#1a1a1a", "lineBreak": "\n", "lineHeight": 15}
},
"bounds": "flush",
"align": "each",
"columns": 10,
"spacing": 0,
"concat": [
{"width": 154, "height": 57, "view": {"fill": "#d9d9d9", "stroke": "#333333"}, "data": {"name": "strips"}, "transform": [{"filter": "indexof(datum.label, 'Cachexia') == 0"}], "mark": {"type": "text", "dy": -15}, "encoding": {"text": {"field": "label"}}},
{"width": 10, "height": 6.5, "view": {"stroke": null}, "data": {"name": "none"}, "mark": "point"},
{"width": 154, "height": 57, "view": {"fill": "#d9d9d9", "stroke": "#333333"}, "data": {"name": "strips"}, "transform": [{"filter": "datum.label == 'Dementia'"}], "mark": {"type": "text"}, "encoding": {"text": {"field": "label"}}},
{"width": 10, "height": 6.5, "view": {"stroke": null}, "data": {"name": "none"}, "mark": "point"},
{"width": 154, "height": 57, "view": {"fill": "#d9d9d9", "stroke": "#333333"}, "data": {"name": "strips"}, "transform": [{"filter": "indexof(datum.label, 'Malaise') == 0"}], "mark": {"type": "text", "dy": -7.5}, "encoding": {"text": {"field": "label"}}},
{"width": 10, "height": 6.5, "view": {"stroke": null}, "data": {"name": "none"}, "mark": "point"},
{"width": 154, "height": 57, "view": {"fill": "#d9d9d9", "stroke": "#333333"}, "data": {"name": "strips"}, "transform": [{"filter": "indexof(datum.label, 'Mobility') == 0"}], "mark": {"type": "text", "dy": -7.5}, "encoding": {"text": {"field": "label"}}},
{"width": 10, "height": 6.5, "view": {"stroke": null}, "data": {"name": "none"}, "mark": "point"},
{"width": 154, "height": 57, "view": {"fill": "#d9d9d9", "stroke": "#333333"}, "data": {"name": "strips"}, "transform": [{"filter": "datum.label == 'Senility'"}], "mark": {"type": "text"}, "encoding": {"text": {"field": "label"}}},
{"width": 10, "height": 6.5, "view": {"stroke": null}, "data": {"name": "none"}, "mark": "point"},

{"width": 154, "height": 171, "data": {"name": "pts"}, "transform": [{"filter": "datum.cause == 'Cachexia' && datum.frailty == 'UC'"}],
 "encoding": {"x": {"field": "age", "type": "ordinal", "scale": {"type": "point", "domain": ["50-54","55-59","60-64","65-69","70-74","75-79","80-84","85-89","90-94","95-99"], "padding": 0.36}, "axis": {"values": ["50-54","60-64","70-74","80-84","90-94"], "labels": false, "ticks": false, "title": null, "gridWidth": {"condition": {"test": "datum.value == '60-64' || datum.value == '80-84'", "value": 0.55}, "value": 1.1}}},
  "y": {"field": "p", "type": "quantitative", "scale": {"type": "log", "domain": [0.00059, 1.48], "nice": false}, "axis": {"values": [0.001, 0.003162, 0.01, 0.03162, 0.1, 0.3162, 1], "format": ".3f", "title": null, "labelExpr": "indexof([0.001,0.01,0.1,1], datum.value) >= 0 ? datum.label : ''", "tickOpacity": {"condition": {"test": "indexof([0.001,0.01,0.1,1], datum.value) >= 0", "value": 1}, "value": 0}, "gridWidth": {"condition": {"test": "indexof([0.001,0.01,0.1,1], datum.value) >= 0", "value": 1.1}, "value": 0.55}}},
  "color": {"field": "loc", "type": "nominal", "legend": {"title": null}}},
 "layer": [{"mark": {"type": "line", "strokeWidth": 1.1}}, {"mark": {"type": "circle", "size": 20, "opacity": 1}}]},
{"width": 10, "height": 6.5, "view": {"stroke": null}, "data": {"name": "none"}, "mark": "point"},
{"width": 154, "height": 171, "data": {"name": "pts"}, "transform": [{"filter": "datum.cause == 'Dementia' && datum.frailty == 'UC'"}],
 "encoding": {"x": {"field": "age", "type": "ordinal", "scale": {"type": "point", "domain": ["50-54","55-59","60-64","65-69","70-74","75-79","80-84","85-89","90-94","95-99"], "padding": 0.36}, "axis": {"values": ["50-54","60-64","70-74","80-84","90-94"], "labels": false, "ticks": false, "title": null, "gridWidth": {"condition": {"test": "datum.value == '60-64' || datum.value == '80-84'", "value": 0.55}, "value": 1.1}}},
  "y": {"field": "p", "type": "quantitative", "scale": {"type": "log", "domain": [0.00059, 1.48], "nice": false}, "axis": {"values": [0.001, 0.003162, 0.01, 0.03162, 0.1, 0.3162, 1], "labels": false, "ticks": false, "title": null, "gridWidth": {"condition": {"test": "indexof([0.001,0.01,0.1,1], datum.value) >= 0", "value": 1.1}, "value": 0.55}}},
  "color": {"field": "loc", "type": "nominal", "legend": {"title": null}}},
 "layer": [{"mark": {"type": "line", "strokeWidth": 1.1}}, {"mark": {"type": "circle", "size": 20, "opacity": 1}}]},
{"width": 10, "height": 6.5, "view": {"stroke": null}, "data": {"name": "none"}, "mark": "point"},
{"width": 154, "height": 171, "data": {"name": "pts"}, "transform": [{"filter": "datum.cause == 'Malaise' && datum.frailty == 'UC'"}],
 "encoding": {"x": {"field": "age", "type": "ordinal", "scale": {"type": "point", "domain": ["50-54","55-59","60-64","65-69","70-74","75-79","80-84","85-89","90-94","95-99"], "padding": 0.36}, "axis": {"values": ["50-54","60-64","70-74","80-84","90-94"], "labels": false, "ticks": false, "title": null, "gridWidth": {"condition": {"test": "datum.value == '60-64' || datum.value == '80-84'", "value": 0.55}, "value": 1.1}}},
  "y": {"field": "p", "type": "quantitative", "scale": {"type": "log", "domain": [0.00059, 1.48], "nice": false}, "axis": {"values": [0.001, 0.003162, 0.01, 0.03162, 0.1, 0.3162, 1], "labels": false, "ticks": false, "title": null, "gridWidth": {"condition": {"test": "indexof([0.001,0.01,0.1,1], datum.value) >= 0", "value": 1.1}, "value": 0.55}}},
  "color": {"field": "loc", "type": "nominal", "legend": {"title": null}}},
 "layer": [{"mark": {"type": "line", "strokeWidth": 1.1}}, {"mark": {"type": "circle", "size": 20, "opacity": 1}}]},
{"width": 10, "height": 6.5, "view": {"stroke": null}, "data": {"name": "none"}, "mark": "point"},
{"width": 154, "height": 171, "data": {"name": "pts"}, "transform": [{"filter": "datum.cause == 'Mobility' && datum.frailty == 'UC'"}],
 "encoding": {"x": {"field": "age", "type": "ordinal", "scale": {"type": "point", "domain": ["50-54","55-59","60-64","65-69","70-74","75-79","80-84","85-89","90-94","95-99"], "padding": 0.36}, "axis": {"values": ["50-54","60-64","70-74","80-84","90-94"], "labels": false, "ticks": false, "title": null, "gridWidth": {"condition": {"test": "datum.value == '60-64' || datum.value == '80-84'", "value": 0.55}, "value": 1.1}}},
  "y": {"field": "p", "type": "quantitative", "scale": {"type": "log", "domain": [0.00059, 1.48], "nice": false}, "axis": {"values": [0.001, 0.003162, 0.01, 0.03162, 0.1, 0.3162, 1], "labels": false, "ticks": false, "title": null, "gridWidth": {"condition": {"test": "indexof([0.001,0.01,0.1,1], datum.value) >= 0", "value": 1.1}, "value": 0.55}}},
  "color": {"field": "loc", "type": "nominal", "legend": {"title": null}}},
 "layer": [{"mark": {"type": "line", "strokeWidth": 1.1}}, {"mark": {"type": "circle", "size": 20, "opacity": 1}}]},
{"width": 10, "height": 6.5, "view": {"stroke": null}, "data": {"name": "none"}, "mark": "point"},
{"width": 154, "height": 171, "data": {"name": "pts"}, "transform": [{"filter": "datum.cause == 'Senility' && datum.frailty == 'UC'"}],
 "encoding": {"x": {"field": "age", "type": "ordinal", "scale": {"type": "point", "domain": ["50-54","55-59","60-64","65-69","70-74","75-79","80-84","85-89","90-94","95-99"], "padding": 0.36}, "axis": {"values": ["50-54","60-64","70-74","80-84","90-94"], "labels": false, "ticks": false, "title": null, "gridWidth": {"condition": {"test": "datum.value == '60-64' || datum.value == '80-84'", "value": 0.55}, "value": 1.1}}},
  "y": {"field": "p", "type": "quantitative", "scale": {"type": "log", "domain": [0.00059, 1.48], "nice": false}, "axis": {"values": [0.001, 0.003162, 0.01, 0.03162, 0.1, 0.3162, 1], "labels": false, "ticks": false, "title": null, "gridWidth": {"condition": {"test": "indexof([0.001,0.01,0.1,1], datum.value) >= 0", "value": 1.1}, "value": 0.55}}},
  "color": {"field": "loc", "type": "nominal", "legend": {"title": null}}},
 "layer": [{"mark": {"type": "line", "strokeWidth": 1.1}}, {"mark": {"type": "circle", "size": 20, "opacity": 1}}]},
{"width": 22, "height": 171, "view": {"fill": "#d9d9d9", "stroke": "#333333"}, "data": {"name": "strips"}, "transform": [{"filter": "datum.label == 'Frailty (UC)'"}], "mark": {"type": "text", "angle": 90}, "encoding": {"text": {"field": "label"}}},

{"width": 10, "height": 6.5, "view": {"stroke": null}, "data": {"name": "none"}, "mark": "point"},
{"width": 10, "height": 6.5, "view": {"stroke": null}, "data": {"name": "none"}, "mark": "point"},
{"width": 10, "height": 6.5, "view": {"stroke": null}, "data": {"name": "none"}, "mark": "point"},
{"width": 10, "height": 6.5, "view": {"stroke": null}, "data": {"name": "none"}, "mark": "point"},
{"width": 10, "height": 6.5, "view": {"stroke": null}, "data": {"name": "none"}, "mark": "point"},
{"width": 10, "height": 6.5, "view": {"stroke": null}, "data": {"name": "none"}, "mark": "point"},
{"width": 10, "height": 6.5, "view": {"stroke": null}, "data": {"name": "none"}, "mark": "point"},
{"width": 10, "height": 6.5, "view": {"stroke": null}, "data": {"name": "none"}, "mark": "point"},
{"width": 10, "height": 6.5, "view": {"stroke": null}, "data": {"name": "none"}, "mark": "point"},
{"width": 10, "height": 6.5, "view": {"stroke": null}, "data": {"name": "none"}, "mark": "point"},

{"width": 154, "height": 171, "data": {"name": "pts"}, "transform": [{"filter": "datum.cause == 'Cachexia' && datum.frailty == 'P1'"}],
 "encoding": {"x": {"field": "age", "type": "ordinal", "scale": {"type": "point", "domain": ["50-54","55-59","60-64","65-69","70-74","75-79","80-84","85-89","90-94","95-99"], "padding": 0.36}, "axis": {"values": ["50-54","60-64","70-74","80-84","90-94"], "labels": false, "ticks": false, "title": null, "gridWidth": {"condition": {"test": "datum.value == '60-64' || datum.value == '80-84'", "value": 0.55}, "value": 1.1}}},
  "y": {"field": "p", "type": "quantitative", "scale": {"type": "log", "domain": [0.00059, 1.48], "nice": false}, "axis": {"values": [0.001, 0.003162, 0.01, 0.03162, 0.1, 0.3162, 1], "format": ".3f", "title": ["Proportion of deaths with specific cause", "within frailty deaths by location"], "titleLineHeight": 19, "labelExpr": "indexof([0.001,0.01,0.1,1], datum.value) >= 0 ? datum.label : ''", "tickOpacity": {"condition": {"test": "indexof([0.001,0.01,0.1,1], datum.value) >= 0", "value": 1}, "value": 0}, "gridWidth": {"condition": {"test": "indexof([0.001,0.01,0.1,1], datum.value) >= 0", "value": 1.1}, "value": 0.55}}},
  "color": {"field": "loc", "type": "nominal", "legend": {"title": null}}},
 "layer": [{"mark": {"type": "line", "strokeWidth": 1.1}}, {"mark": {"type": "circle", "size": 20, "opacity": 1}}]},
{"width": 10, "height": 6.5, "view": {"stroke": null}, "data": {"name": "none"}, "mark": "point"},
{"width": 154, "height": 171, "data": {"name": "pts"}, "transform": [{"filter": "datum.cause == 'Dementia' && datum.frailty == 'P1'"}],
 "encoding": {"x": {"field": "age", "type": "ordinal", "scale": {"type": "point", "domain": ["50-54","55-59","60-64","65-69","70-74","75-79","80-84","85-89","90-94","95-99"], "padding": 0.36}, "axis": {"values": ["50-54","60-64","70-74","80-84","90-94"], "labels": false, "ticks": false, "title": null, "gridWidth": {"condition": {"test": "datum.value == '60-64' || datum.value == '80-84'", "value": 0.55}, "value": 1.1}}},
  "y": {"field": "p", "type": "quantitative", "scale": {"type": "log", "domain": [0.00059, 1.48], "nice": false}, "axis": {"values": [0.001, 0.003162, 0.01, 0.03162, 0.1, 0.3162, 1], "labels": false, "ticks": false, "title": null, "gridWidth": {"condition": {"test": "indexof([0.001,0.01,0.1,1], datum.value) >= 0", "value": 1.1}, "value": 0.55}}},
  "color": {"field": "loc", "type": "nominal", "legend": {"title": null}}},
 "layer": [{"mark": {"type": "line", "strokeWidth": 1.1}}, {"mark": {"type": "circle", "size": 20, "opacity": 1}}]},
{"width": 10, "height": 6.5, "view": {"stroke": null}, "data": {"name": "none"}, "mark": "point"},
{"width": 154, "height": 171, "data": {"name": "pts"}, "transform": [{"filter": "datum.cause == 'Malaise' && datum.frailty == 'P1'"}],
 "encoding": {"x": {"field": "age", "type": "ordinal", "scale": {"type": "point", "domain": ["50-54","55-59","60-64","65-69","70-74","75-79","80-84","85-89","90-94","95-99"], "padding": 0.36}, "axis": {"values": ["50-54","60-64","70-74","80-84","90-94"], "labels": false, "ticks": false, "title": null, "gridWidth": {"condition": {"test": "datum.value == '60-64' || datum.value == '80-84'", "value": 0.55}, "value": 1.1}}},
  "y": {"field": "p", "type": "quantitative", "scale": {"type": "log", "domain": [0.00059, 1.48], "nice": false}, "axis": {"values": [0.001, 0.003162, 0.01, 0.03162, 0.1, 0.3162, 1], "labels": false, "ticks": false, "title": null, "gridWidth": {"condition": {"test": "indexof([0.001,0.01,0.1,1], datum.value) >= 0", "value": 1.1}, "value": 0.55}}},
  "color": {"field": "loc", "type": "nominal", "legend": {"title": null}}},
 "layer": [{"mark": {"type": "line", "strokeWidth": 1.1}}, {"mark": {"type": "circle", "size": 20, "opacity": 1}}]},
{"width": 10, "height": 6.5, "view": {"stroke": null}, "data": {"name": "none"}, "mark": "point"},
{"width": 154, "height": 171, "data": {"name": "pts"}, "transform": [{"filter": "datum.cause == 'Mobility' && datum.frailty == 'P1'"}],
 "encoding": {"x": {"field": "age", "type": "ordinal", "scale": {"type": "point", "domain": ["50-54","55-59","60-64","65-69","70-74","75-79","80-84","85-89","90-94","95-99"], "padding": 0.36}, "axis": {"values": ["50-54","60-64","70-74","80-84","90-94"], "labels": false, "ticks": false, "title": null, "gridWidth": {"condition": {"test": "datum.value == '60-64' || datum.value == '80-84'", "value": 0.55}, "value": 1.1}}},
  "y": {"field": "p", "type": "quantitative", "scale": {"type": "log", "domain": [0.00059, 1.48], "nice": false}, "axis": {"values": [0.001, 0.003162, 0.01, 0.03162, 0.1, 0.3162, 1], "labels": false, "ticks": false, "title": null, "gridWidth": {"condition": {"test": "indexof([0.001,0.01,0.1,1], datum.value) >= 0", "value": 1.1}, "value": 0.55}}},
  "color": {"field": "loc", "type": "nominal", "legend": {"title": null}}},
 "layer": [{"mark": {"type": "line", "strokeWidth": 1.1}}, {"mark": {"type": "circle", "size": 20, "opacity": 1}}]},
{"width": 10, "height": 6.5, "view": {"stroke": null}, "data": {"name": "none"}, "mark": "point"},
{"width": 154, "height": 171, "data": {"name": "pts"}, "transform": [{"filter": "datum.cause == 'Senility' && datum.frailty == 'P1'"}],
 "encoding": {"x": {"field": "age", "type": "ordinal", "scale": {"type": "point", "domain": ["50-54","55-59","60-64","65-69","70-74","75-79","80-84","85-89","90-94","95-99"], "padding": 0.36}, "axis": {"values": ["50-54","60-64","70-74","80-84","90-94"], "labels": false, "ticks": false, "title": null, "gridWidth": {"condition": {"test": "datum.value == '60-64' || datum.value == '80-84'", "value": 0.55}, "value": 1.1}}},
  "y": {"field": "p", "type": "quantitative", "scale": {"type": "log", "domain": [0.00059, 1.48], "nice": false}, "axis": {"values": [0.001, 0.003162, 0.01, 0.03162, 0.1, 0.3162, 1], "labels": false, "ticks": false, "title": null, "gridWidth": {"condition": {"test": "indexof([0.001,0.01,0.1,1], datum.value) >= 0", "value": 1.1}, "value": 0.55}}},
  "color": {"field": "loc", "type": "nominal", "legend": {"title": null}}},
 "layer": [{"mark": {"type": "line", "strokeWidth": 1.1}}, {"mark": {"type": "circle", "size": 20, "opacity": 1}}]},
{"width": 22, "height": 171, "view": {"fill": "#d9d9d9", "stroke": "#333333"}, "data": {"name": "strips"}, "transform": [{"filter": "datum.label == 'Frailty (non UC) on Part I'"}], "mark": {"type": "text", "angle": 90}, "encoding": {"text": {"field": "label"}}},

{"width": 10, "height": 6.5, "view": {"stroke": null}, "data": {"name": "none"}, "mark": "point"},
{"width": 10, "height": 6.5, "view": {"stroke": null}, "data": {"name": "none"}, "mark": "point"},
{"width": 10, "height": 6.5, "view": {"stroke": null}, "data": {"name": "none"}, "mark": "point"},
{"width": 10, "height": 6.5, "view": {"stroke": null}, "data": {"name": "none"}, "mark": "point"},
{"width": 10, "height": 6.5, "view": {"stroke": null}, "data": {"name": "none"}, "mark": "point"},
{"width": 10, "height": 6.5, "view": {"stroke": null}, "data": {"name": "none"}, "mark": "point"},
{"width": 10, "height": 6.5, "view": {"stroke": null}, "data": {"name": "none"}, "mark": "point"},
{"width": 10, "height": 6.5, "view": {"stroke": null}, "data": {"name": "none"}, "mark": "point"},
{"width": 10, "height": 6.5, "view": {"stroke": null}, "data": {"name": "none"}, "mark": "point"},
{"width": 10, "height": 6.5, "view": {"stroke": null}, "data": {"name": "none"}, "mark": "point"},

{"width": 154, "height": 171, "data": {"name": "pts"}, "transform": [{"filter": "datum.cause == 'Cachexia' && datum.frailty == 'P2'"}],
 "encoding": {"x": {"field": "age", "type": "ordinal", "scale": {"type": "point", "domain": ["50-54","55-59","60-64","65-69","70-74","75-79","80-84","85-89","90-94","95-99"], "padding": 0.36}, "axis": {"values": ["50-54","60-64","70-74","80-84","90-94"], "title": null, "labelAngle": 0, "labelExpr": "datum.value == '60-64' || datum.value == '80-84' ? '' : datum.label", "tickOpacity": {"condition": {"test": "datum.value == '60-64' || datum.value == '80-84'", "value": 0}, "value": 1}, "gridWidth": {"condition": {"test": "datum.value == '60-64' || datum.value == '80-84'", "value": 0.55}, "value": 1.1}}},
  "y": {"field": "p", "type": "quantitative", "scale": {"type": "log", "domain": [0.00059, 1.48], "nice": false}, "axis": {"values": [0.001, 0.003162, 0.01, 0.03162, 0.1, 0.3162, 1], "format": ".3f", "title": null, "labelExpr": "indexof([0.001,0.01,0.1,1], datum.value) >= 0 ? datum.label : ''", "tickOpacity": {"condition": {"test": "indexof([0.001,0.01,0.1,1], datum.value) >= 0", "value": 1}, "value": 0}, "gridWidth": {"condition": {"test": "indexof([0.001,0.01,0.1,1], datum.value) >= 0", "value": 1.1}, "value": 0.55}}},
  "color": {"field": "loc", "type": "nominal", "legend": {"title": null}}},
 "layer": [{"mark": {"type": "line", "strokeWidth": 1.1}}, {"mark": {"type": "circle", "size": 20, "opacity": 1}}]},
{"width": 10, "height": 6.5, "view": {"stroke": null}, "data": {"name": "none"}, "mark": "point"},
{"width": 154, "height": 171, "data": {"name": "pts"}, "transform": [{"filter": "datum.cause == 'Dementia' && datum.frailty == 'P2'"}],
 "encoding": {"x": {"field": "age", "type": "ordinal", "scale": {"type": "point", "domain": ["50-54","55-59","60-64","65-69","70-74","75-79","80-84","85-89","90-94","95-99"], "padding": 0.36}, "axis": {"values": ["50-54","60-64","70-74","80-84","90-94"], "title": null, "labelAngle": 0, "labelExpr": "datum.value == '60-64' || datum.value == '80-84' ? '' : datum.label", "tickOpacity": {"condition": {"test": "datum.value == '60-64' || datum.value == '80-84'", "value": 0}, "value": 1}, "gridWidth": {"condition": {"test": "datum.value == '60-64' || datum.value == '80-84'", "value": 0.55}, "value": 1.1}}},
  "y": {"field": "p", "type": "quantitative", "scale": {"type": "log", "domain": [0.00059, 1.48], "nice": false}, "axis": {"values": [0.001, 0.003162, 0.01, 0.03162, 0.1, 0.3162, 1], "labels": false, "ticks": false, "title": null, "gridWidth": {"condition": {"test": "indexof([0.001,0.01,0.1,1], datum.value) >= 0", "value": 1.1}, "value": 0.55}}},
  "color": {"field": "loc", "type": "nominal", "legend": {"title": null}}},
 "layer": [{"mark": {"type": "line", "strokeWidth": 1.1}}, {"mark": {"type": "circle", "size": 20, "opacity": 1}}]},
{"width": 10, "height": 6.5, "view": {"stroke": null}, "data": {"name": "none"}, "mark": "point"},
{"width": 154, "height": 171, "data": {"name": "pts"}, "transform": [{"filter": "datum.cause == 'Malaise' && datum.frailty == 'P2'"}],
 "encoding": {"x": {"field": "age", "type": "ordinal", "scale": {"type": "point", "domain": ["50-54","55-59","60-64","65-69","70-74","75-79","80-84","85-89","90-94","95-99"], "padding": 0.36}, "axis": {"values": ["50-54","60-64","70-74","80-84","90-94"], "title": "Age", "titlePadding": 4, "labelAngle": 0, "labelExpr": "datum.value == '60-64' || datum.value == '80-84' ? '' : datum.label", "tickOpacity": {"condition": {"test": "datum.value == '60-64' || datum.value == '80-84'", "value": 0}, "value": 1}, "gridWidth": {"condition": {"test": "datum.value == '60-64' || datum.value == '80-84'", "value": 0.55}, "value": 1.1}}},
  "y": {"field": "p", "type": "quantitative", "scale": {"type": "log", "domain": [0.00059, 1.48], "nice": false}, "axis": {"values": [0.001, 0.003162, 0.01, 0.03162, 0.1, 0.3162, 1], "labels": false, "ticks": false, "title": null, "gridWidth": {"condition": {"test": "indexof([0.001,0.01,0.1,1], datum.value) >= 0", "value": 1.1}, "value": 0.55}}},
  "color": {"field": "loc", "type": "nominal", "legend": {"title": null}}},
 "layer": [{"mark": {"type": "line", "strokeWidth": 1.1}}, {"mark": {"type": "circle", "size": 20, "opacity": 1}}]},
{"width": 10, "height": 6.5, "view": {"stroke": null}, "data": {"name": "none"}, "mark": "point"},
{"width": 154, "height": 171, "data": {"name": "pts"}, "transform": [{"filter": "datum.cause == 'Mobility' && datum.frailty == 'P2'"}],
 "encoding": {"x": {"field": "age", "type": "ordinal", "scale": {"type": "point", "domain": ["50-54","55-59","60-64","65-69","70-74","75-79","80-84","85-89","90-94","95-99"], "padding": 0.36}, "axis": {"values": ["50-54","60-64","70-74","80-84","90-94"], "title": null, "labelAngle": 0, "labelExpr": "datum.value == '60-64' || datum.value == '80-84' ? '' : datum.label", "tickOpacity": {"condition": {"test": "datum.value == '60-64' || datum.value == '80-84'", "value": 0}, "value": 1}, "gridWidth": {"condition": {"test": "datum.value == '60-64' || datum.value == '80-84'", "value": 0.55}, "value": 1.1}}},
  "y": {"field": "p", "type": "quantitative", "scale": {"type": "log", "domain": [0.00059, 1.48], "nice": false}, "axis": {"values": [0.001, 0.003162, 0.01, 0.03162, 0.1, 0.3162, 1], "labels": false, "ticks": false, "title": null, "gridWidth": {"condition": {"test": "indexof([0.001,0.01,0.1,1], datum.value) >= 0", "value": 1.1}, "value": 0.55}}},
  "color": {"field": "loc", "type": "nominal", "legend": {"title": null}}},
 "layer": [{"mark": {"type": "line", "strokeWidth": 1.1}}, {"mark": {"type": "circle", "size": 20, "opacity": 1}}]},
{"width": 10, "height": 6.5, "view": {"stroke": null}, "data": {"name": "none"}, "mark": "point"},
{"width": 154, "height": 171, "data": {"name": "pts"}, "transform": [{"filter": "datum.cause == 'Senility' && datum.frailty == 'P2'"}],
 "encoding": {"x": {"field": "age", "type": "ordinal", "scale": {"type": "point", "domain": ["50-54","55-59","60-64","65-69","70-74","75-79","80-84","85-89","90-94","95-99"], "padding": 0.36}, "axis": {"values": ["50-54","60-64","70-74","80-84","90-94"], "title": null, "labelAngle": 0, "labelExpr": "datum.value == '60-64' || datum.value == '80-84' ? '' : datum.label", "tickOpacity": {"condition": {"test": "datum.value == '60-64' || datum.value == '80-84'", "value": 0}, "value": 1}, "gridWidth": {"condition": {"test": "datum.value == '60-64' || datum.value == '80-84'", "value": 0.55}, "value": 1.1}}},
  "y": {"field": "p", "type": "quantitative", "scale": {"type": "log", "domain": [0.00059, 1.48], "nice": false}, "axis": {"values": [0.001, 0.003162, 0.01, 0.03162, 0.1, 0.3162, 1], "labels": false, "ticks": false, "title": null, "gridWidth": {"condition": {"test": "indexof([0.001,0.01,0.1,1], datum.value) >= 0", "value": 1.1}, "value": 0.55}}},
  "color": {"field": "loc", "type": "nominal", "legend": {"title": null}}},
 "layer": [{"mark": {"type": "line", "strokeWidth": 1.1}}, {"mark": {"type": "circle", "size": 20, "opacity": 1}}]},
{"width": 22, "height": 171, "view": {"fill": "#d9d9d9", "stroke": "#333333"}, "data": {"name": "strips"}, "transform": [{"filter": "datum.label == 'Frailty (non UC) on Part II'"}], "mark": {"type": "text", "angle": 90}, "encoding": {"text": {"field": "label"}}}
]
}
